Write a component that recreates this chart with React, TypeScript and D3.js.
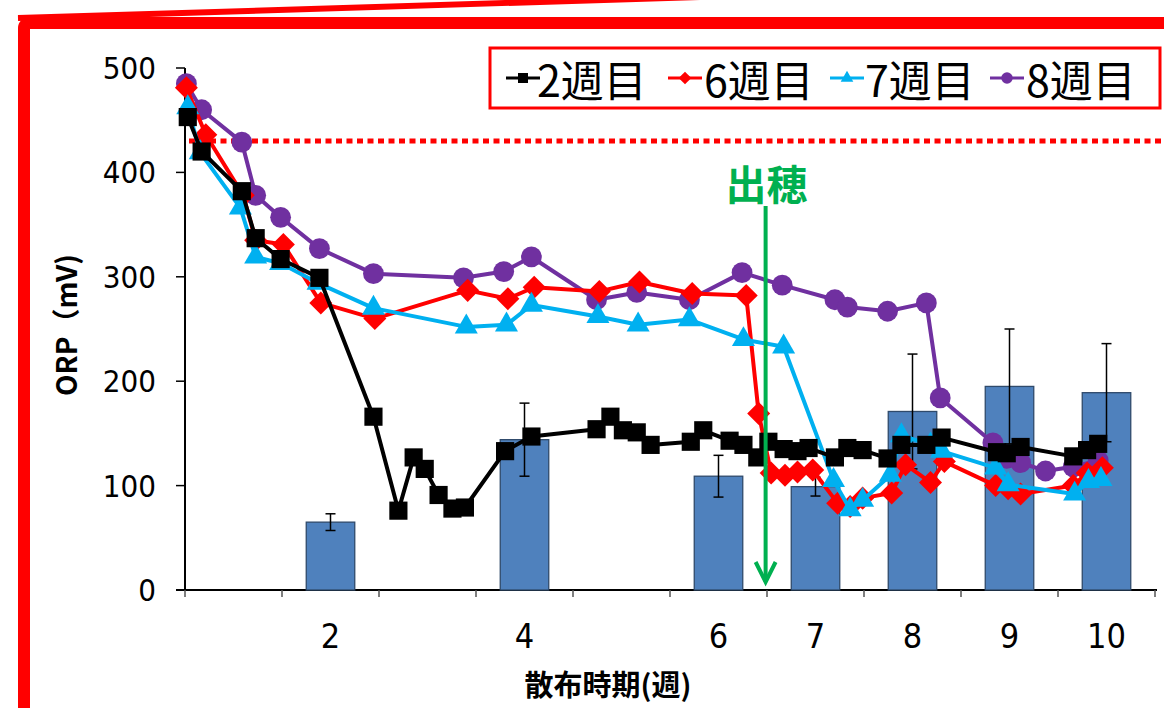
import React from "react";
import * as d3 from "d3";

// Category slots along the x axis (application timing, weeks)
const categories = ["", "2", "", "4", "", "6", "7", "8", "9", "10"];
// Bar series (mean ORP at each application timing) and its error
const barValues: (number | null)[] = [null, 65, null, 144, null, 109, 99, 171, 195, 189];
const barErrors: (number | null)[] = [null, 8, null, 35, null, 20, 9, 55, 55, 47];

// Daily ORP readings (day from start, mV)
const week2Days = [0.2, 1.2, 4.1, 5.1, 6.9, 9.7, 13.6, 15.4, 16.5, 17.3, 18.3, 19.3, 20.2, 23.1, 25.0, 29.7, 30.7, 31.6, 32.6, 33.6, 36.5, 37.4, 39.3, 40.3, 41.3, 42.1, 43.2, 44.2, 45.0, 46.9, 47.8, 48.9, 50.7, 51.7, 53.5, 54.6, 58.6, 59.3, 60.3, 64.1, 65.1, 65.9];
const week2Orp = [453, 420, 382, 337, 317, 299, 166, 76, 127, 116, 91, 78, 79, 133, 147, 154, 166, 153, 151, 139, 142, 153, 143, 139, 127, 142, 135, 133, 136, 127, 136, 134, 126, 139, 139, 146, 132, 131, 137, 128, 134, 140];

const week6Days = [0.1, 1.5, 4.2, 5.1, 7.1, 9.8, 13.7, 20.4, 23.3, 25.2, 29.9, 32.8, 36.6, 40.5, 41.4, 42.3, 43.3, 44.2, 45.3, 47.1, 48.0, 48.9, 51.0, 52.0, 53.8, 54.8, 58.5, 59.4, 60.3, 64.1, 65.1, 66.2];
const week6Orp = [481, 436, 378, 335, 331, 275, 260, 287, 279, 290, 286, 295, 284, 282, 169, 112, 110, 113, 115, 83, 80, 88, 93, 120, 103, 123, 100, 97, 92, 100, 112, 117];

const week7Days = [0.2, 1.1, 4.0, 5.1, 6.9, 9.6, 13.6, 20.3, 23.2, 25.0, 29.8, 32.7, 36.4, 40.3, 43.2, 46.8, 48.0, 48.9, 50.9, 51.7, 53.8, 54.6, 58.5, 59.4, 64.2, 65.2, 66.1];
const week7Orp = [462, 419, 366, 319, 313, 294, 270, 252, 254, 273, 262, 254, 259, 240, 233, 105, 77, 86, 110, 148, 139, 133, 117, 101, 92, 104, 106];

const week8Days = [0.1, 1.2, 4.1, 5.1, 6.9, 9.7, 13.6, 20.1, 23.0, 25.0, 29.7, 32.6, 36.4, 40.2, 43.1, 46.9, 47.8, 50.7, 53.5, 54.5, 58.3, 59.3, 60.3, 62.1, 64.1, 65.9];
const week8Orp = [485, 460, 429, 378, 357, 327, 303, 299, 305, 319, 278, 285, 278, 304, 292, 278, 271, 267, 275, 184, 141, 126, 122, 114, 118, 124];

const yTicks = [0, 100, 200, 300, 400, 500];
const thresholdOrp = 430;
const headingDay = 41.9;

type Marker = "square" | "diamond" | "triangle" | "circle";
interface Series {
  name: string;
  color: string;
  marker: Marker;
  days: number[];
  orp: number[];
}

const series: Series[] = [
  { name: "2週目", color: "#000000", marker: "square", days: week2Days, orp: week2Orp },
  { name: "6週目", color: "#FF0000", marker: "diamond", days: week6Days, orp: week6Orp },
  { name: "7週目", color: "#00B0F0", marker: "triangle", days: week7Days, orp: week7Orp },
  { name: "8週目", color: "#7030A0", marker: "circle", days: week8Days, orp: week8Orp },
];
// paint order: later series drawn on top
const drawOrder = [3, 1, 2, 0];

const W = 1164;
const H = 708;
const plotLeft = 185;
const plotRight = 1155;
const plotTop = 68;
const plotBottom = 590;

const xBand = d3.scaleBand<string>()
  .domain(categories.map((_, i) => String(i)))
  .range([plotLeft, plotRight])
  .paddingInner(0.5)
  .paddingOuter(0.25);
const xDay = d3.scaleLinear().domain([0, 70]).range([plotLeft, plotRight]);
const y = d3.scaleLinear().domain([0, 500]).range([plotBottom, plotTop]);

function markerPath(m: Marker, scale: number): string {
  const gen = d3.symbol();
  const k = scale * scale;
  if (m === "square") return gen.type(d3.symbolSquare).size(330 * k)() as string;
  if (m === "diamond") return gen.type(d3.symbolSquare).size(265 * k)() as string;
  if (m === "triangle") return gen.type(d3.symbolTriangle).size(230 * k)() as string;
  return gen.type(d3.symbolCircle).size(340 * k)() as string;
}

const numFont = "'Liberation Sans Narrow', 'DejaVu Sans Condensed', 'Noto Sans', sans-serif";
const jpFont = "'Noto Sans CJK JP', 'Noto Sans', sans-serif";

export default function App() {
  const step = xBand.step();
  const boundaries = d3.range(categories.length + 1).map((i) => plotLeft + i * step);
  const lineGen = d3.line<[number, number]>()
    .x((d) => xDay(d[0]))
    .y((d) => y(d[1]));

  const legendItems = [
    { lx: 506, tx: 537 },
    { lx: 668, tx: 704 },
    { lx: 830, tx: 865 },
    { lx: 990, tx: 1026 },
  ];

  const arrowX = xDay(headingDay);

  return (
    <svg
      width={W}
      height={H}
      viewBox={`0 0 ${W} ${H}`}
      style={{ position: "absolute", left: 0, top: 0, background: "#fff" }}
    >
      <rect x={0} y={0} width={W} height={H} fill="#fff" />

      {/* callout frame */}
      <line x1={18} y1={18} x2={700} y2={-3} stroke="#FF0000" strokeWidth={6} />
      <rect x={24} y={23} width={1300} height={900} rx={5} fill="none" stroke="#FF0000" strokeWidth={12} />

      {/* y axis */}
      <line x1={plotLeft} y1={plotTop} x2={plotLeft} y2={plotBottom} stroke="#000" strokeWidth={2} />
      {yTicks.map((t) => (
        <g key={t}>
          <line x1={plotLeft - 9} x2={plotLeft} y1={y(t)} y2={y(t)} stroke="#000" strokeWidth={1.5} />
          <text x={156} y={y(t) + 11} textAnchor="end" fontSize={31} fontFamily={numFont} fill="#000">
            {t}
          </text>
        </g>
      ))}
      <text
        transform={`translate(77,325) rotate(-90)`}
        textAnchor="middle"
        fontSize={28}
        fontWeight="bold"
        fontFamily={jpFont}
        fill="#000"
      >
        ORP（mV)
      </text>

      {/* x axis */}
      <line x1={plotLeft - 9} y1={plotBottom} x2={plotRight + 2} y2={plotBottom} stroke="#000" strokeWidth={2} />
      {boundaries.map((bx, i) => (
        <line key={i} x1={bx} x2={bx} y1={plotBottom} y2={plotBottom + 7} stroke="#555" strokeWidth={1.5} />
      ))}
      {categories.map((c, i) => (
        <text
          key={i}
          x={(xBand(String(i)) as number) + xBand.bandwidth() / 2}
          y={648}
          textAnchor="middle"
          fontSize={34}
          fontFamily={numFont}
          fill="#000"
        >
          {c}
        </text>
      ))}
      <text x={608} y={696} textAnchor="middle" fontSize={29} fontWeight="bold" fontFamily={jpFont} fill="#000">
        散布時期(週)
      </text>

      {/* bars */}
      {barValues.map((v, i) =>
        v == null ? null : (
          <rect
            key={i}
            x={xBand(String(i)) as number}
            y={y(v)}
            width={xBand.bandwidth()}
            height={y(0) - y(v)}
            fill="#4F81BD"
            stroke="#2F4A6B"
            strokeWidth={1.3}
          />
        )
      )}
      {barValues.map((v, i) => {
        const e = barErrors[i];
        if (v == null || e == null) return null;
        const cx = (xBand(String(i)) as number) + xBand.bandwidth() / 2;
        return (
          <g key={i} stroke="#000" strokeWidth={1.5}>
            <line x1={cx} x2={cx} y1={y(v + e)} y2={y(v - e)} />
            <line x1={cx - 5} x2={cx + 5} y1={y(v + e)} y2={y(v + e)} />
            <line x1={cx - 5} x2={cx + 5} y1={y(v - e)} y2={y(v - e)} />
          </g>
        )
      })}

      {/* threshold */}
      <line
        x1={189}
        x2={W}
        y1={y(thresholdOrp)}
        y2={y(thresholdOrp)}
        stroke="#FF0000"
        strokeWidth={5}
        strokeDasharray="6 4.5"
      />

      {/* ORP series */}
      {drawOrder.map((si) => {
        const s = series[si];
        const pts = s.days.map((d, k) => [d, s.orp[k]] as [number, number]);
        const mp = markerPath(s.marker, 1);
        return (
          <g key={s.name}>
            <path d={lineGen(pts) as string} fill="none" stroke={s.color} strokeWidth={4} strokeLinejoin="round" />
            {pts.map((p, k) => (
              <path
                key={k}
                d={mp}
                fill={s.color}
                transform={`translate(${xDay(p[0])},${y(p[1])})${s.marker === "diamond" ? " rotate(45)" : ""}`}
              />
            ))}
          </g>
        );
      })}

      {/* heading arrow */}
      <g stroke="#00B050" strokeWidth={4} fill="none">
        <line x1={arrowX} x2={arrowX} y1={206} y2={582} />
        <polyline points={`${arrowX - 10},${562} ${arrowX},${582} ${arrowX + 10},${562}`} strokeLinejoin="miter" />
      </g>
      <text x={arrowX + 1} y={200} textAnchor="middle" fontSize={41} fontWeight="bold" fontFamily={jpFont} fill="#00B050">
        出穂
      </text>

      {/* legend */}
      <rect x={490} y={48} width={670} height={60} fill="#fff" stroke="#FF0000" strokeWidth={3} />
      {series.map((s, i) => {
        const it = legendItems[i];
        const cy = 78;
        return (
          <g key={s.name}>
            <line x1={it.lx} x2={it.lx + 34} y1={cy} y2={cy} stroke={s.color} strokeWidth={3} />
            <path
              d={markerPath(s.marker, 0.55)}
              fill={s.color}
              transform={`translate(${it.lx + 17},${cy})${s.marker === "diamond" ? " rotate(45)" : ""}`}
            />
            <text x={it.tx} y={97} fontSize={43} fontFamily={jpFont} fill="#000">
              {s.name}
            </text>
          </g>
        );
      })}
    </svg>
  );
}
